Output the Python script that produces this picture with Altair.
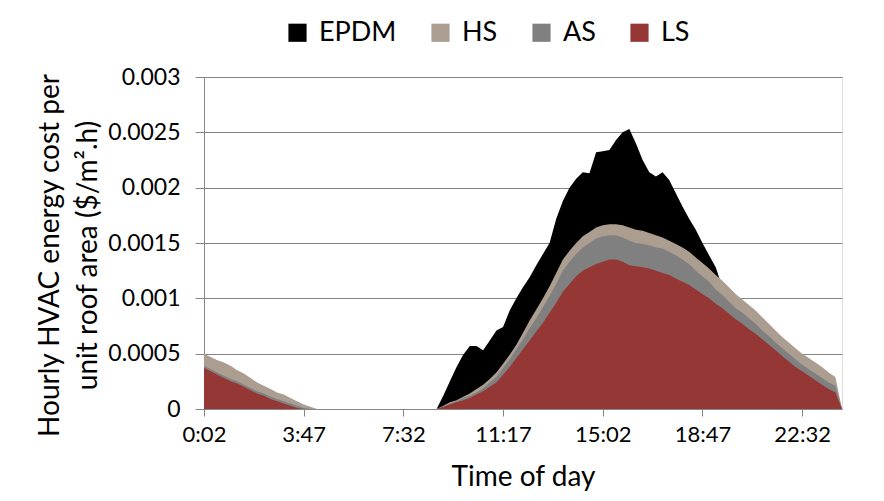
import altair as alt
import pandas as pd

series_names = ["EPDM", "HS", "AS", "LS"]
series_colors = ["#000000", "#ab9d8f", "#808080", "#953735"]
tick_labels = ["0:02", "3:47", "7:32", "11:17", "15:02", "18:47", "22:32"]
y_ticks = [0, 0.0005, 0.001, 0.0015, 0.002, 0.0025, 0.003]

# 97 readings at 15-minute steps starting 0:02
ls = [0.00037, 0.00034, 0.00031, 0.00028, 0.00025, 0.00023, 0.0002, 0.00017, 0.00014, 0.00012,
      0.00009, 0.00007, 0.00005, 0.00003, 0.00001, 0, 0, 0, 0, 0,
      0, 0, 0, 0, 0, 0, 0, 0, 0, 0,
      0, 0, 0, 0, 0, 0, 0.00002, 0.00004, 0.00006, 0.00008,
      0.0001, 0.00013, 0.00016, 0.0002, 0.00024, 0.00031, 0.00038, 0.00046, 0.00054, 0.00062,
      0.0007, 0.00078, 0.00087, 0.00096, 0.00106, 0.00113, 0.0012, 0.00125, 0.00128, 0.00131,
      0.00133, 0.00135, 0.00135, 0.00133, 0.0013, 0.00129, 0.00128, 0.00127, 0.00125, 0.00123,
      0.00121, 0.00118, 0.00115, 0.00112, 0.00108, 0.00104, 0.001, 0.00095, 0.00091, 0.00086,
      0.00081, 0.00077, 0.00072, 0.00068, 0.00063, 0.00058, 0.00053, 0.00048, 0.00043, 0.00038,
      0.00034, 0.0003, 0.00026, 0.00022, 0.00018, 0.00015, 0]

as_ = [0.00039, 0.00036, 0.00033, 0.0003, 0.00027, 0.00025, 0.00022, 0.00019, 0.00016, 0.00014,
       0.00011, 0.00009, 0.00007, 0.00005, 0.00003, 0.00001, 0, 0, 0, 0,
       0, 0, 0, 0, 0, 0, 0, 0, 0, 0,
       0, 0, 0, 0, 0, 0, 0.00002, 0.00005, 0.00007, 0.0001,
       0.00012, 0.00015, 0.00019, 0.00024, 0.00029, 0.00037, 0.00045, 0.00054, 0.00063, 0.00073,
       0.00082, 0.00092, 0.00102, 0.00113, 0.00125, 0.00133, 0.0014, 0.00146, 0.0015, 0.00154,
       0.00156, 0.00157, 0.00157, 0.00155, 0.00152, 0.0015, 0.00149, 0.00148, 0.00146, 0.00145,
       0.00142, 0.00139, 0.00135, 0.00131, 0.00125, 0.0012, 0.00115, 0.00108, 0.00103, 0.00097,
       0.00091, 0.00087, 0.00082, 0.00077, 0.00071, 0.00066, 0.0006, 0.00055, 0.0005, 0.00045,
       0.0004, 0.00036, 0.00032, 0.00028, 0.00024, 0.00021, 0]

hs = [0.0005, 0.00047, 0.00044, 0.00042, 0.00039, 0.00035, 0.00032, 0.00028, 0.00024, 0.00021,
      0.00018, 0.00015, 0.00013, 0.0001, 0.00007, 0.00004, 0.00002, 0, 0, 0,
      0, 0, 0, 0, 0, 0, 0, 0, 0, 0,
      0, 0, 0, 0, 0, 0, 0.00003, 0.00006, 0.00008, 0.00011,
      0.00014, 0.00018, 0.00022, 0.00027, 0.00033, 0.00041, 0.00049, 0.00058, 0.00069, 0.0008,
      0.0009, 0.001, 0.00111, 0.00123, 0.00135, 0.00143, 0.0015, 0.00156, 0.0016, 0.00164,
      0.00166, 0.00167, 0.00167, 0.00166, 0.00164, 0.00162, 0.00161, 0.00159, 0.00157, 0.00155,
      0.00152, 0.00149, 0.00146, 0.00142, 0.00137, 0.00132, 0.00127, 0.00121, 0.00116, 0.0011,
      0.00104, 0.00099, 0.00094, 0.00089, 0.00083, 0.00077, 0.00071, 0.00065, 0.0006, 0.00055,
      0.0005, 0.00046, 0.00042, 0.00038, 0.00033, 0.00029, 0]

epdm = [0, 0, 0, 0, 0, 0, 0, 0, 0, 0,
        0, 0, 0, 0, 0, 0, 0, 0, 0, 0,
        0, 0, 0, 0, 0, 0, 0, 0, 0, 0,
        0, 0, 0, 0, 0, 0, 0.00012, 0.00025, 0.00038, 0.00049,
        0.00057, 0.00057, 0.00053, 0.00062, 0.00071, 0.00074, 0.00089, 0.001, 0.0011, 0.00119,
        0.0013, 0.0014, 0.0015, 0.00172, 0.00188, 0.002, 0.00208, 0.00214, 0.00213, 0.00232,
        0.00233, 0.00234, 0.00243, 0.0025, 0.00253, 0.0024, 0.00225, 0.00214, 0.0021, 0.00214,
        0.00207, 0.00195, 0.00183, 0.00172, 0.00162, 0.0015, 0.00139, 0.00128, 0.0011, 0.00095,
        0.0009, 0.00085, 0.0008, 0.00075, 0.0007, 0.00064, 0.00058, 0.00053, 0.00048, 0.00043,
        0.00038, 0.00034, 0.0003, 0.00026, 0.00022, 0.00018, 0]

values = {"EPDM": epdm, "HS": hs, "AS": as_, "LS": ls}
rows = []
for name in series_names:  # data order = drawing order (EPDM at back, LS in front)
    for i, v in enumerate(values[name]):
        rows.append({"idx": i, "series": name, "value": v})
df = pd.DataFrame(rows)

FONT = "Lato"
label_expr = "[" + ",".join("'%s'" % t for t in tick_labels) + "][round(datum.value / 15)]"

color = alt.Color(
    "series:N",
    scale=alt.Scale(domain=series_names, range=series_colors),
    legend=alt.Legend(
        title=None, orient="none", direction="horizontal",
        legendX=80, legendY=-58,
        symbolType="square", symbolSize=330, symbolStrokeWidth=0,
        labelFontSize=27, labelFont=FONT, labelColor="black",
        labelOffset=8, columnPadding=30, symbolOpacity=1,
    ),
)

x = alt.X(
    "idx:Q",
    scale=alt.Scale(domain=[0, 96], nice=False, zero=False),
    axis=alt.Axis(
        values=[0, 15, 30, 45, 60, 75, 90], labelExpr=label_expr,
        title="Time of day", titleFontSize=28, titleFont=FONT, titleFontWeight="normal",
        titleColor="black", titleY=68, titleBaseline="middle",
        labelFontSize=22, labelFont=FONT, labelColor="black", labelPadding=8,
        tickColor="#868686", tickSize=7, domainColor="#868686", grid=False,
        labelFlush=False, labelOverlap=False,
    ),
)
y = alt.Y(
    "value:Q",
    stack=None,
    scale=alt.Scale(domain=[0, 0.003], nice=False),
    axis=alt.Axis(
        values=y_ticks, format="~g",
        title=["Hourly HVAC energy cost per", "unit roof area ($/m\u00b2.h)"],
        titleFontSize=28, titleFont=FONT, titleFontWeight="normal", titleColor="black",
        titleLineHeight=38, titleAngle=-90, titleX=-168, titleY=178,
        titleBaseline="top", titleAlign="center",
        labelFontSize=23, labelFont=FONT, labelColor="black", labelPadding=15,
        tickColor="#868686", tickSize=9, domainColor="#868686",
        grid=True, gridColor="#868686", gridWidth=1,
    ),
)

chart = (
    alt.Chart(df)
    .mark_area(interpolate="linear", opacity=1)
    .encode(x=x, y=y, color=color)
    .properties(
        width=638, height=332,
        autosize=alt.AutoSizeParams(type="none"),
        padding={"left": 196, "top": 69, "right": 34, "bottom": 84},
    )
    .configure_view(stroke="transparent", fill="transparent")
    .configure(font=FONT)
)

chart.save("out.html", embed_options={"renderer": "svg", "actions": False})
